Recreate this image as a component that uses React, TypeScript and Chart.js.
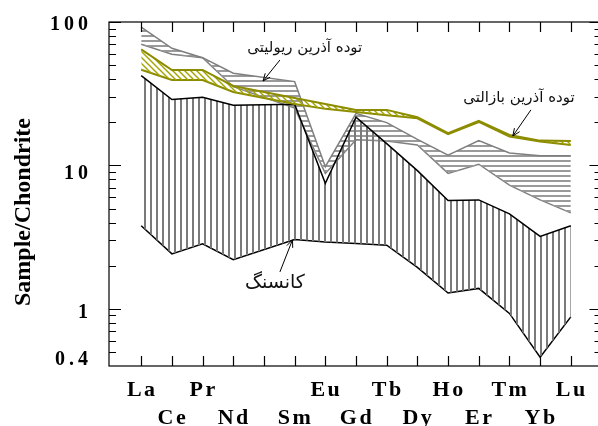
import React, { useEffect, useRef } from "react";
import { Chart, registerables } from "chart.js";

Chart.register(...registerables);

// REE elements (Pm has no data)
const elements = ["La", "Ce", "Pr", "Nd", "Pm", "Sm", "Eu", "Gd", "Tb", "Dy", "Ho", "Er", "Tm", "Yb", "Lu"];
// 0 = upper label row, 1 = lower label row, -1 = no label
const labelRows = [0, 1, 0, 1, -1, 1, 0, 1, 0, 1, 0, 1, 0, 1, 0];

// Ore (کانسنگ) envelope
const oreUpper = [42.3, 28.8, 29.9, 26.3, null, 26.7, 7.5, 21.7, 14.2, 9.2, 5.7, 5.75, 4.6, 3.2, 3.8];
const oreLower = [3.8, 2.42, 2.84, 2.2, null, 3.05, 2.93, 2.86, 2.78, 1.95, 1.29, 1.39, 0.93, 0.46, 0.88];
// Rhyolitic intrusive (توده آذرین ریولیتی) envelope
const rhyUpper = [92, 65.6, 56.4, 43.9, null, 38.4, 9.8, 23.1, 19.9, 15.2, 11.8, 14.9, 12.2, 11.7, 11.7];
const rhyLower = [70, 59.6, 56.4, 35.4, null, 25.1, 8.8, 15.1, 14.8, 13.9, 8.8, 10.2, 7.3, 5.75, 4.67];
// Basaltic intrusive (توده آذرین بازالتی) envelope
const basUpper = [64.5, 46.3, 46.3, 35.8, null, 29.5, 26.8, 24.4, 24.4, 21.7, 16.8, 20.5, 16.3, 14.9, 14.8];
const basLower = [46.5, 39.4, 39.4, 32.5, null, 26.8, 24.8, 23.6, 22.4, 21.3, 16.5, 20.1, 15.9, 14.7, 13.9];

const yTickValues = [100, 10, 1, 0.4];
const yTickLabels = ["100", "10", "1", "0.4"];
const yLabelOffsets = [3, 8, 4, -6];

const yTitle = "Sample/Chondrite";

// annotations: [text, textX, textY, arrowFromX, arrowFromY, arrowToX, arrowToY] in data units
const annotations: [string, number, number, number, number, number, number][] = [
  ["توده آذرین ریولیتی", 6.33, 66, 5.52, 54.3, 4.97, 38.8],
  ["توده آذرین بازالتی", 13.31, 29.5, 13.7, 24.4, 13.11, 16.05],
  ["کانسنگ", 5.36, 1.52, 5.52, 1.81, 5.93, 3.03],
];
const annotationFontSizes = [15, 15, 19];

function toPoints(arr: (number | null)[]) {
  return arr.map((v, i) => ({ x: i + 1, y: v }));
}

function makePattern(
  target: CanvasRenderingContext2D,
  w: number,
  h: number,
  draw: (g: CanvasRenderingContext2D) => void
) {
  const c = document.createElement("canvas");
  c.width = w;
  c.height = h;
  const g = c.getContext("2d")!;
  draw(g);
  return target.createPattern(c, "repeat")!;
}

const framePlugin = {
  id: "framePlugin",
  afterDraw(chart: any) {
    const ctx: CanvasRenderingContext2D = chart.ctx;
    const { left, right, top, bottom } = chart.chartArea;
    const xs = chart.scales.x;
    const ys = chart.scales.y;
    ctx.save();
    ctx.strokeStyle = "#000";
    ctx.lineWidth = 1.2;
    ctx.strokeRect(left, top, right - left, bottom - top);
    ctx.beginPath();
    elements.forEach((_, i) => {
      const px = Math.round(xs.getPixelForValue(i + 1)) + 0.5;
      ctx.moveTo(px, top);
      ctx.lineTo(px, top + 10);
      ctx.moveTo(px, bottom);
      ctx.lineTo(px, bottom - 10);
    });
    for (let d = -1; d <= 2; d++) {
      for (let m = 1; m <= 9; m++) {
        const v = m * Math.pow(10, d);
        if (v <= 0.4 + 1e-9 || v > 100 + 1e-9) continue;
        const py = Math.round(ys.getPixelForValue(v)) + 0.5;
        const len = m === 1 ? 12 : 7;
        ctx.moveTo(left, py);
        ctx.lineTo(left + len, py);
        ctx.moveTo(right, py);
        ctx.lineTo(right - len, py);
      }
    }
    ctx.stroke();

    // y tick labels
    ctx.fillStyle = "#000";
    ctx.font = 'bold 20px "Liberation Serif", "Times New Roman", serif';
    (ctx as any).letterSpacing = "4px";
    ctx.textAlign = "right";
    ctx.textBaseline = "middle";
    yTickValues.forEach((v, i) => {
      const py = ys.getPixelForValue(v) + yLabelOffsets[i];
      ctx.fillText(yTickLabels[i], left - 17, py);
    });

    // x tick labels (two rows)
    ctx.font = 'bold 22px "Liberation Serif", "Times New Roman", serif';
    (ctx as any).letterSpacing = "2.5px";
    ctx.textAlign = "center";
    ctx.textBaseline = "alphabetic";
    elements.forEach((el, i) => {
      const row = labelRows[i];
      if (row < 0) return;
      const px = xs.getPixelForValue(i + 1) + 1;
      ctx.fillText(el, px, row === 0 ? bottom + 30 : bottom + 58);
    });
    (ctx as any).letterSpacing = "0px";

    // y title
    ctx.save();
    ctx.translate(24, (top + bottom) / 2 + 18);
    ctx.rotate(-Math.PI / 2);
    ctx.font = 'bold 24px "Liberation Serif", "Times New Roman", serif';
    ctx.textAlign = "center";
    ctx.textBaseline = "middle";
    ctx.fillText(yTitle, 0, 0);
    ctx.restore();

    // annotations
    ctx.textAlign = "center";
    ctx.textBaseline = "middle";
    ctx.strokeStyle = "#000";
    ctx.lineWidth = 1;
    annotations.forEach(([txt, tx, ty, ax, ay, bx, by], i) => {
      ctx.font = `${annotationFontSizes[i]}px "DejaVu Sans", sans-serif`;
      ctx.fillStyle = "#111";
      ctx.fillText(txt, xs.getPixelForValue(tx), ys.getPixelForValue(ty));
      const x1 = xs.getPixelForValue(ax);
      const y1 = ys.getPixelForValue(ay);
      const x2 = xs.getPixelForValue(bx);
      const y2 = ys.getPixelForValue(by);
      ctx.beginPath();
      ctx.moveTo(x1, y1);
      ctx.lineTo(x2, y2);
      const ang = Math.atan2(y2 - y1, x2 - x1);
      const hl = 8;
      ctx.moveTo(x2 - hl * Math.cos(ang - 0.4), y2 - hl * Math.sin(ang - 0.4));
      ctx.lineTo(x2, y2);
      ctx.lineTo(x2 - hl * Math.cos(ang + 0.4), y2 - hl * Math.sin(ang + 0.4));
      ctx.stroke();
    });
    ctx.restore();
  },
};

export default function App() {
  const ref = useRef<HTMLCanvasElement | null>(null);

  useEffect(() => {
    const canvas = ref.current!;
    const ctx = canvas.getContext("2d")!;

    const vertPattern = makePattern(ctx, 6, 6, (g) => {
      g.fillStyle = "#7a7a7a";
      g.fillRect(0, 0, 2, 6);
    });
    const horizPattern = makePattern(ctx, 5, 5, (g) => {
      g.fillStyle = "#9a9a9a";
      g.fillRect(0, 0, 5, 2);
    });
    const diagPattern = makePattern(ctx, 6, 6, (g) => {
      g.strokeStyle = "#a3a300";
      g.lineWidth = 1.4;
      g.beginPath();
      for (let k = -1; k <= 1; k++) {
        g.moveTo(-1, k * 6 - 1);
        g.lineTo(7, k * 6 + 7);
      }
      g.stroke();
    });

    const chart = new Chart(canvas, {
      type: "line",
      data: {
        datasets: [
          {
            data: toPoints(basUpper),
            borderColor: "#8c8c00",
            borderWidth: 2,
            backgroundColor: diagPattern,
            fill: "+1",
            order: 1,
          },
          {
            data: toPoints(basLower),
            borderColor: "#8c8c00",
            borderWidth: 2,
            fill: false,
            order: 1,
          },
          {
            data: toPoints(oreUpper),
            borderColor: "#000",
            borderWidth: 1.5,
            backgroundColor: vertPattern,
            fill: "+1",
            order: 2,
          },
          {
            data: toPoints(oreLower),
            borderColor: "#000",
            borderWidth: 1.5,
            fill: false,
            order: 2,
          },
          {
            data: toPoints(rhyUpper),
            borderColor: "#7f7f7f",
            borderWidth: 1.5,
            backgroundColor: horizPattern,
            fill: "+1",
            order: 3,
          },
          {
            data: toPoints(rhyLower),
            borderColor: "#7f7f7f",
            borderWidth: 1.5,
            fill: false,
            order: 3,
          },
        ] as any,
      },
      options: {
        animation: false,
        responsive: false,
        maintainAspectRatio: false,
        spanGaps: true,
        layout: { padding: { left: 0, right: 8.5, top: 22, bottom: 0 } },
        elements: { point: { radius: 0 }, line: { tension: 0 } },
        plugins: { legend: { display: false }, tooltip: { enabled: false } },
        scales: {
          x: {
            type: "linear",
            min: -0.05,
            max: 16,
            grid: { display: false },
            border: { display: false },
            ticks: { display: false },
            afterFit: (s: any) => {
              s.height = 60;
            },
          },
          y: {
            type: "logarithmic",
            min: 0.4,
            max: 100,
            grid: { display: false },
            border: { display: false },
            ticks: { display: false },
            afterFit: (s: any) => {
              s.width = 109;
            },
          },
        },
      } as any,
      plugins: [framePlugin],
    });

    return () => chart.destroy();
  }, []);

  return (
    <div
      style={{
        position: "absolute",
        left: 0,
        top: 0,
        width: 598,
        height: 426,
        overflow: "hidden",
        background: "#fff",
      }}
    >
      <canvas ref={ref} width={610} height={426} style={{ display: "block" }} />
    </div>
  );
}
